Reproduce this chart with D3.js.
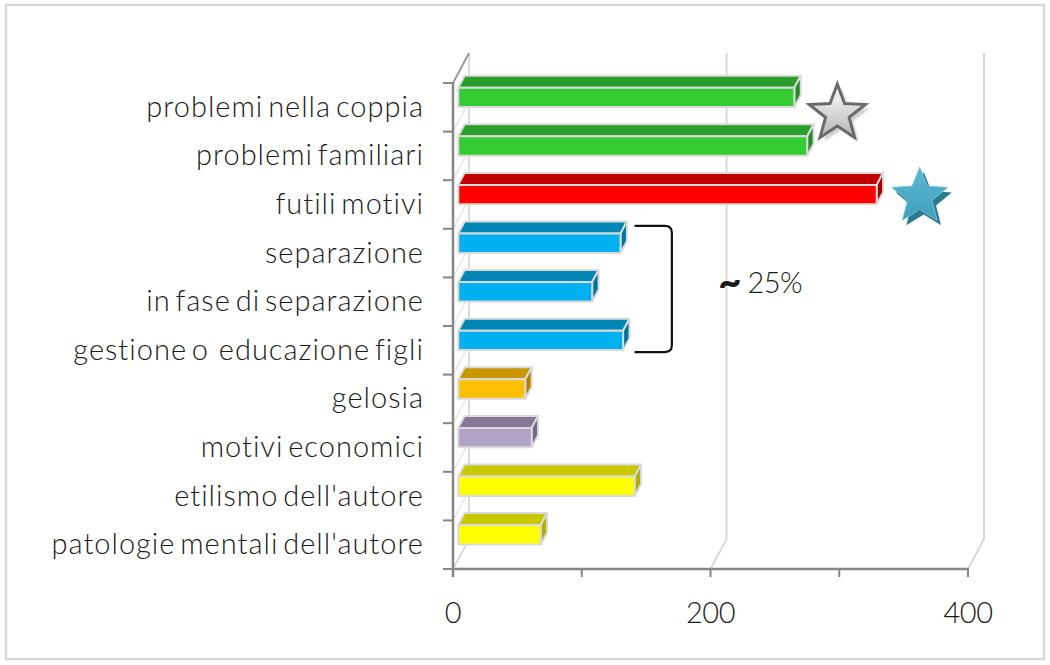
<!DOCTYPE html>
<html>
<head>
<meta charset="utf-8">
<script src="https://cdn.jsdelivr.net/npm/d3@7"></script>
<style>
  html, body { margin: 0; padding: 0; background: #fff; }
  svg { display: block; }
  text { font-family: Lato, "Open Sans", sans-serif; fill: #1a1a1a; }
</style>
</head>
<body>
<svg id="chart" width="1050" height="665"></svg>
<script>
// ---- data ----
const categories = [
  "problemi nella coppia",
  "problemi familiari",
  "futili motivi",
  "separazione",
  "in fase di separazione",
  "gestione o  educazione figli",
  "gelosia",
  "motivi economici",
  "etilismo dell'autore",
  "patologie mentali dell'autore"
];
const values = [261, 271, 325, 126, 104, 128, 52, 57, 137, 64];
const frontColors = ["#33cc33", "#33cc33", "#ff0000", "#00b0f0", "#00b0f0", "#00b0f0", "#ffc000", "#b3a2c7", "#ffff00", "#ffff00"];
const topColors   = ["#2a9e2a", "#2a9e2a", "#c00000", "#0085b5", "#0085b5", "#0085b5", "#c99600", "#857899", "#c8c800", "#c8c800"];
const sideColors  = ["#238a23", "#238a23", "#a80000", "#00729c", "#00729c", "#00729c", "#b08300", "#75698a", "#b0b000", "#b0b000"];
const tickValues = [0, 100, 200, 300, 400];
const tickLabels = [0, 200, 400];
const gridValues = [200, 400];
const annotationSymbol = "~";
const annotationText = "25%";

// ---- layout ----
const svg = d3.select("#chart");
const x = d3.scaleLinear().domain([0, 400]).range([453, 968]);
const y = d3.scaleBand().domain(categories).range([83, 569]);
const depth = { dx: 16, dy: -30 };
const f0 = 0.33, f1 = 0.73, barRatio = 0.4;
const floorY = y.range()[1], topY = y.range()[0];

// outer border
svg.append("rect").attr("x", 6).attr("y", 5).attr("width", 1038).attr("height", 654)
  .attr("fill", "#fff").attr("stroke", "#d9d9d9").attr("stroke-width", 2.5);

// back wall gridlines
gridValues.forEach(v => {
  const xf = x(v), xb = x(v) + depth.dx;
  svg.append("path")
    .attr("d", `M${xb},${topY + depth.dy} V${floorY + depth.dy} L${xf},${floorY}`)
    .attr("fill", "none").attr("stroke", "#d9d9d9").attr("stroke-width", 2);
});

// left wall
const x0 = x(0);
svg.append("path")
  .attr("d", `M${x0 + depth.dx},${topY + depth.dy} V${floorY + depth.dy} L${x0},${floorY}`)
  .attr("fill", "none").attr("stroke", "#cfcfcf").attr("stroke-width", 1.5);
y.domain().forEach(c => {
  const yb = y(c) + y.bandwidth();
  if (yb < floorY - 1) {
    svg.append("line")
      .attr("x1", x0).attr("y1", yb).attr("x2", x0 + depth.dx).attr("y2", yb + depth.dy)
      .attr("stroke", "#e6e6e6").attr("stroke-width", 1.5);
  }
});
svg.append("line")
  .attr("x1", x0).attr("y1", topY).attr("x2", x0 + depth.dx).attr("y2", topY + depth.dy)
  .attr("stroke", "#9a9a9a").attr("stroke-width", 2);

// axes lines
svg.append("line").attr("x1", x0).attr("y1", topY).attr("x2", x0).attr("y2", floorY + 8)
  .attr("stroke", "#868686").attr("stroke-width", 2.5);
svg.append("line").attr("x1", x0 - 1).attr("y1", floorY).attr("x2", x(400) + 1).attr("y2", floorY)
  .attr("stroke", "#868686").attr("stroke-width", 2.5);
// category ticks
[...categories.map(c => y(c)), floorY].forEach(t => {
  svg.append("line").attr("x1", x0 - 10).attr("x2", x0).attr("y1", t).attr("y2", t)
    .attr("stroke", "#868686").attr("stroke-width", 2);
});
// value ticks
tickValues.forEach(v => {
  svg.append("line").attr("x1", x(v)).attr("x2", x(v)).attr("y1", floorY).attr("y2", floorY + 8)
    .attr("stroke", "#868686").attr("stroke-width", 2);
});
svg.selectAll("text.tick").data(tickLabels).enter().append("text")
  .attr("class", "tick")
  .attr("x", d => x(d)).attr("y", floorY + 54)
  .attr("text-anchor", "middle").attr("font-size", 29).attr("font-weight", 300)
  .attr("letter-spacing", -0.5)
  .text(d => d);

// category labels
svg.selectAll("text.cat").data(categories).enter().append("text")
  .attr("class", "cat")
  .attr("x", 424).attr("y", d => y(d) + y.bandwidth() / 2 + 9.5)
  .attr("text-anchor", "end").attr("font-size", 29).attr("font-weight", 300)
  .attr("letter-spacing", 1)
  .attr("word-spacing", -4)
  .attr("xml:space", "preserve")
  .text(d => d);

// bars
const h = y.bandwidth() * barRatio;
const ddx = (f1 - f0) * depth.dx, ddy = (f1 - f0) * depth.dy;
const bars = svg.append("g");
categories.forEach((c, i) => {
  const xa = x(0) + f0 * depth.dx, xb = x(values[i]) + f0 * depth.dx;
  const yt = y(c) + f0 * depth.dy + (y.bandwidth() - h) / 2, yB = yt + h;
  const g = bars.append("g").attr("stroke", "#dadada").attr("stroke-width", 2).attr("stroke-linejoin", "round");
  g.append("path").attr("fill", topColors[i])
    .attr("d", `M${xa},${yt} L${xb},${yt} L${xb + ddx},${yt + ddy} L${xa + ddx},${yt + ddy} Z`);
  g.append("path").attr("fill", sideColors[i])
    .attr("d", `M${xb},${yt} L${xb + ddx},${yt + ddy} L${xb + ddx},${yB + ddy} L${xb},${yB} Z`);
  g.append("rect").attr("fill", frontColors[i])
    .attr("x", xa).attr("y", yt).attr("width", xb - xa).attr("height", h);
});

// stars
const defs = svg.append("defs");
const gg = defs.append("linearGradient").attr("id", "gstar").attr("x1", 0).attr("y1", 0).attr("x2", 0).attr("y2", 1);
gg.append("stop").attr("offset", "0%").attr("stop-color", "#ffffff");
gg.append("stop").attr("offset", "100%").attr("stop-color", "#b5b5b5");
const bg = defs.append("linearGradient").attr("id", "bstar").attr("x1", 0).attr("y1", 0).attr("x2", 0).attr("y2", 1);
bg.append("stop").attr("offset", "0%").attr("stop-color", "#5cb8d2");
bg.append("stop").attr("offset", "100%").attr("stop-color", "#3e9fbc");
defs.append("filter").attr("id", "blur").append("feGaussianBlur").attr("stdDeviation", 1.2);

function starPath(cx, cy, R, ratio) {
  const pts = d3.range(10).map(k => {
    const r = k % 2 === 0 ? R : R * ratio;
    const a = -Math.PI / 2 + k * Math.PI / 5;
    return [cx + r * Math.cos(a), cy + r * Math.sin(a)];
  });
  return d3.line()(pts) + "Z";
}
const R = 29.5;
const gcx = x(values[0]) + f0 * depth.dx + 43, gcy = y(categories[1]) - 18;
svg.append("path").attr("d", starPath(gcx + 4, gcy + 4, R, 0.42)).attr("fill", "#bdbdbd").attr("opacity", 0.7).attr("filter", "url(#blur)");
svg.append("path").attr("d", starPath(gcx, gcy, R, 0.42)).attr("fill", "url(#gstar)")
  .attr("stroke", "#6b6b6b").attr("stroke-width", 3).attr("stroke-linejoin", "miter");
const bcx = x(values[2]) + f0 * depth.dx + 43, bcy = y(categories[2]) + y.bandwidth() / 2 - 8;
svg.append("path").attr("d", starPath(bcx + 4, bcy + 5, R, 0.44)).attr("fill", "#2b7a8f");
svg.append("path").attr("d", starPath(bcx, bcy, R, 0.44)).attr("fill", "url(#bstar)")
  .attr("stroke", "#7cc8dc").attr("stroke-width", 0.8);

// bracket annotation
const bl = x(141), br = x(170);
const bt = y(categories[3]) - 3;
const bbot = y(categories[5]) + f0 * depth.dy + (y.bandwidth() - h) / 2 + h + 2;
const rr = 7;
svg.append("path")
  .attr("d", `M${bl},${bt} H${br - rr} Q${br},${bt} ${br},${bt + rr} V${bbot - rr} Q${br},${bbot} ${br - rr},${bbot} H${bl}`)
  .attr("fill", "none").attr("stroke", "#111").attr("stroke-width", 2.2);
const ann = svg.append("text")
  .attr("x", x(206)).attr("y", (bt + bbot) / 2 + 4)
  .attr("font-size", 29).attr("font-weight", 300);
ann.append("tspan").attr("font-weight", 900).attr("font-size", 40).attr("dy", 3).text(annotationSymbol);
ann.append("tspan").attr("dx", 6).attr("dy", -3).attr("letter-spacing", -0.5).text(annotationText);
</script>
</body>
</html>
